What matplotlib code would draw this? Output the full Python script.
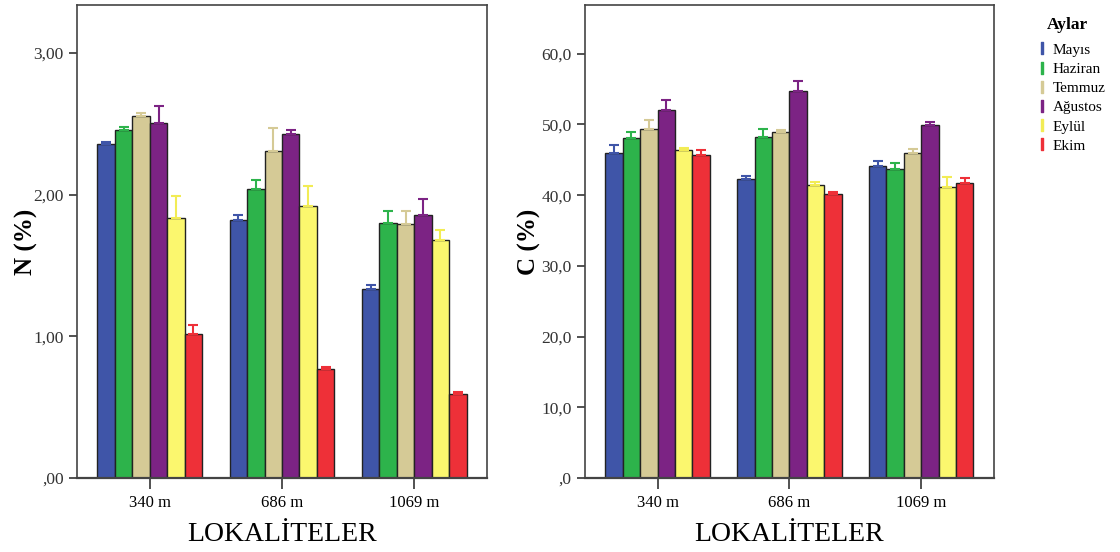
import matplotlib.pyplot as plt
import numpy as np
from matplotlib.lines import Line2D

plt.rcParams['font.family'] = ['Liberation Serif', 'DejaVu Serif']

# Locations (altitude) and sampling months
localities = ['340 m', '686 m', '1069 m']
months = ['Mayıs', 'Haziran', 'Temmuz', 'Ağustos', 'Eylül', 'Ekim']
bar_colors = ['#3F55A8', '#2DB34B', '#D5CA96', '#7C2384', '#FBF76E', '#EE3038']
err_colors = ['#3F55A8', '#2DB34B', '#D5CA96', '#7C2384', '#F2EC55', '#EE3038']

# N (%) means and upper error bar ends, one row per month
n_mean = [
    [2.355, 1.824, 1.332],
    [2.459, 2.040, 1.798],
    [2.555, 2.310, 1.793],
    [2.506, 2.428, 1.856],
    [1.835, 1.918, 1.682],
    [1.014, 0.770, 0.590],
]
n_top = [
    [2.374, 1.860, 1.360],
    [2.478, 2.106, 1.885],
    [2.574, 2.473, 1.882],
    [2.626, 2.454, 1.967],
    [1.990, 2.064, 1.750],
    [1.080, 0.785, 0.610],
]

# C (%) means and upper error bar ends
c_mean = [
    [45.9, 42.3, 44.1],
    [48.1, 48.2, 43.7],
    [49.4, 49.0, 45.9],
    [52.0, 54.8, 49.9],
    [46.4, 41.5, 41.2],
    [45.7, 40.1, 41.7],
]
c_top = [
    [47.1, 42.7, 44.9],
    [48.9, 49.4, 44.6],
    [50.6, 49.2, 46.6],
    [53.4, 56.2, 50.3],
    [46.7, 41.8, 42.6],
    [46.4, 40.5, 42.45],
]

n_ticks = [0, 1, 2, 3]
n_ticklabels = [',00', '1,00', '2,00', '3,00']
c_ticks = [0, 10, 20, 30, 40, 50, 60]
c_ticklabels = [',0', '10,0', '20,0', '30,0', '40,0', '50,0', '60,0']

fig = plt.figure(figsize=(11.2, 5.52), dpi=100)
ax_n = fig.add_axes([0.0688, 0.134, 0.366, 0.857])
ax_c = fig.add_axes([0.5223, 0.134, 0.365, 0.857])

width = 0.132
x = np.arange(len(localities))


def draw_panel(ax, means, tops, ticks, ticklabels, ymax, ylabel, pad):
    for i in range(len(months)):
        pos = x + (i - 2.5) * width
        m = np.array(means[i])
        t = np.array(tops[i])
        ax.bar(pos, m, width, color=bar_colors[i], edgecolor='#222222',
               linewidth=1.0, zorder=2)
        ax.errorbar(pos, m, yerr=[np.zeros_like(m), t - m], fmt='none',
                    ecolor=err_colors[i], elinewidth=1.5, capsize=3.5,
                    capthick=1.5, zorder=3)
    ax.set_xlim(-0.55, 2.55)
    ax.set_ylim(0, ymax)
    ax.set_xticks(x)
    ax.set_xticklabels(localities, fontsize=12)
    ax.set_yticks(ticks)
    ax.set_yticklabels(ticklabels, fontsize=12.5, color='#333333')
    ax.tick_params(axis='both', direction='out', length=6, width=1.2,
                   color='#333333')
    ax.tick_params(axis='x', length=8, pad=4)
    for s in ax.spines.values():
        s.set_color('#444444')
        s.set_linewidth(1.2)
    ax.spines['bottom'].set_linewidth(1.6)
    ax.set_ylabel(ylabel, fontsize=18, fontweight='bold', labelpad=pad)
    ax.set_xlabel('LOKALİTELER', fontsize=20, labelpad=8)


draw_panel(ax_n, n_mean, n_top, n_ticks, n_ticklabels, 3.34, 'N (%)', -3)
draw_panel(ax_c, c_mean, c_top, c_ticks, c_ticklabels, 66.9, 'C (%)', 0)

# Legend with error-bar style "I" markers, title placed separately
fig.text(1067 / 1120, 1 - 25 / 552, 'Aylar', ha='center', va='center',
         fontsize=12.5, fontweight='bold')
handles = [Line2D([0], [0], marker='$\\mathrm{I}$', linestyle='none',
                  color=err_colors[i], markersize=9) for i in range(len(months))]
fig.legend(handles, months, loc='upper left', bbox_to_anchor=(0.925, 0.922),
           frameon=False, fontsize=11, handlelength=0.8, handletextpad=0.3,
           labelspacing=0.36, borderaxespad=0, borderpad=0)

plt.savefig('out.png', dpi=100)
